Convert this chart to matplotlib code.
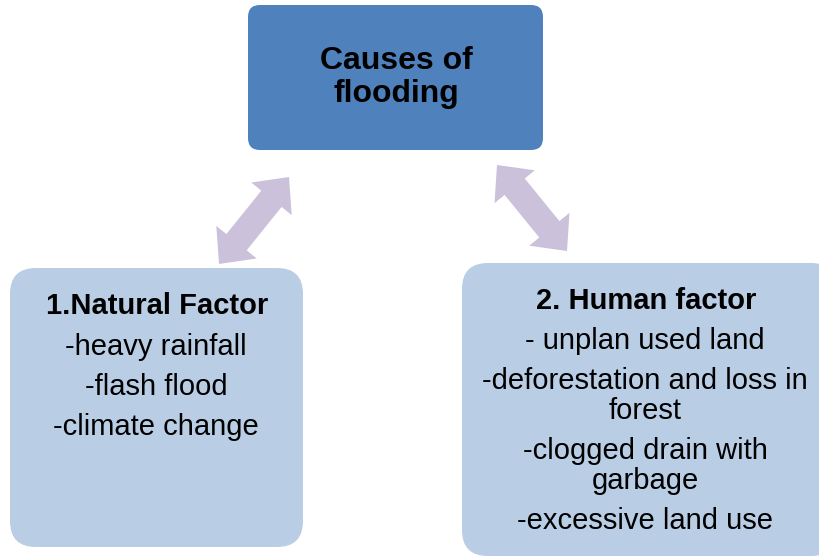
import numpy as np
import matplotlib
matplotlib.use('Agg')
import matplotlib.pyplot as plt
from matplotlib.patches import FancyBboxPatch, Polygon

plt.rcParams['font.family'] = ['Liberation Sans', 'DejaVu Sans']

# diagram content
title = 'Causes of\nflooding'
left_head = '1.Natural Factor'
left_items = ['-heavy rainfall', '-flash flood', '-climate change']
right_head = '2. Human factor'
right_items = ['- unplan used land', '-deforestation and loss in\nforest',
               '-clogged drain with\ngarbage', '-excessive land use']

top_color = '#4F81BD'
box_color = '#B9CDE5'
arrow_color = '#CCC1DA'


def double_arrow(p0, p1, shaft_w, head_w, head_l):
    p0 = np.array(p0, float)
    p1 = np.array(p1, float)
    d = p1 - p0
    d = d / np.hypot(*d)
    n = np.array([-d[1], d[0]])
    a0 = p0 + d * head_l
    a1 = p1 - d * head_l
    pts = [p0,
           a0 + n * head_w / 2, a0 + n * shaft_w / 2,
           a1 + n * shaft_w / 2, a1 + n * head_w / 2,
           p1,
           a1 - n * head_w / 2, a1 - n * shaft_w / 2,
           a0 - n * shaft_w / 2, a0 - n * head_w / 2]
    return Polygon(pts, closed=True, facecolor=arrow_color, edgecolor='none')


fig = plt.figure(figsize=(8.2, 5.57), dpi=100)
ax = fig.add_axes([0, 0, 1, 1])
ax.set_xlim(0, 820)
ax.set_ylim(557, 0)
ax.axis('off')

ax.add_patch(FancyBboxPatch((248, 5), 295, 145,
                            boxstyle='round,pad=0,rounding_size=12',
                            facecolor=top_color, edgecolor='none'))
ax.add_patch(FancyBboxPatch((10, 268), 293, 279,
                            boxstyle='round,pad=0,rounding_size=26',
                            facecolor=box_color, edgecolor='none'))
ax.add_patch(FancyBboxPatch((462, 263), 375, 293,
                            boxstyle='round,pad=0,rounding_size=26',
                            facecolor=box_color, edgecolor='none'))

ax.add_patch(double_arrow((219, 264), (289, 177), 26, 52, 28))
ax.add_patch(double_arrow((497, 165), (567, 251), 26, 52, 28))

title_lines = title.split('\n')
for i, line in enumerate(title_lines):
    ax.text(396, 61 + 33 * i, line, ha='center', va='center', fontsize=23,
            fontweight='bold')

ax.text(157, 306, left_head, ha='center', va='center', fontsize=21,
        fontweight='bold')
for i, s in enumerate(left_items):
    ax.text(156, 347 + 40 * i, s, ha='center', va='center', fontsize=21)

ax.text(646, 301, right_head, ha='center', va='center', fontsize=21,
        fontweight='bold')
y = 341
for s in right_items:
    for line in s.split('\n'):
        ax.text(645, y, line, ha='center', va='center', fontsize=21)
        y += 30
    y += 10

fig.savefig('out.png', dpi=100)
